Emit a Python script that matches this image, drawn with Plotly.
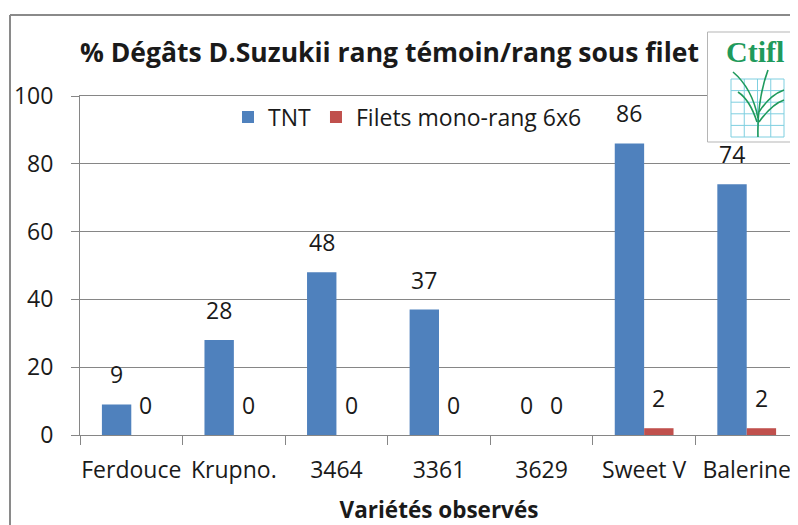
import plotly.graph_objects as go

# ---- data ----
categories = ["Ferdouce", "Krupno.", "3464", "3361", "3629", "Sweet V", "Balerine"]
tnt = [9, 28, 48, 37, 0, 86, 74]
filets = [0, 0, 0, 0, 0, 2, 2]
series_names = ["TNT", "Filets mono-rang 6x6"]
y_tick_values = [0, 20, 40, 60, 80, 100]
title_text = "% Dégâts D.Suzukii rang témoin/rang sous filet"
x_title = "Variétés observés"

# ---- layout geometry (page body has an 8px margin) ----
OFF = 8
W, H = 798 - OFF, 525 - OFF
L, R = 80 - OFF, 0
T = 96 - OFF
B = H - (435 - OFF)
PW = W - L - R
PH = H - T - B
FONT = "Open Sans"
BLUE = "#4F81BD"
RED = "#C0504D"
AXIS = "#868686"
TXT = "#1a1a1a"
BARGAP = 0.427
FS = 23


def px(x):
    # window pixel x -> paper fraction
    return (x - OFF - L) / PW


def py(y):
    # window pixel y -> paper fraction
    return 1 - (y - OFF - T) / PH


fig = go.Figure()
fig.add_trace(go.Bar(x=categories, y=tnt, name=series_names[0], marker_color=BLUE,
                     marker_line_width=0))
fig.add_trace(go.Bar(x=categories, y=filets, name=series_names[1], marker_color=RED,
                     marker_line_width=0))

# data labels
cat_w = PW / len(categories)
bar_w = cat_w * (1 - BARGAP) / 2
annotations = []
for vals, sign in ((tnt, -1), (filets, 1)):
    for i, v in enumerate(vals):
        annotations.append(dict(x=i, y=v, xref="x", yref="y", text=str(v), showarrow=False,
                                xshift=sign * bar_w / 2, yanchor="bottom", yshift=12,
                                font=dict(family=FONT, size=FS, color=TXT)))

# title
annotations.append(dict(x=px(78), y=py(52), xref="paper", yref="paper",
                        text="<b>" + title_text + "</b>", showarrow=False,
                        xanchor="left", yanchor="middle",
                        font=dict(family=FONT, size=26.5, color=TXT)))

shapes = []
# outer chart border (top and left)
shapes.append(dict(type="line", xref="paper", yref="paper", x0=px(10), x1=px(800), y0=py(15), y1=py(15),
                   line=dict(color="#8a8a8a", width=2), layer="above"))
shapes.append(dict(type="line", xref="paper", yref="paper", x0=px(10), x1=px(10), y0=py(15), y1=py(530),
                   line=dict(color="#8a8a8a", width=2), layer="above"))

# logo box
shapes.append(dict(type="rect", xref="paper", yref="paper", x0=px(707.5), x1=px(805), y0=py(32), y1=py(142),
                   fillcolor="white", line=dict(color="#b5b5b5", width=1), layer="above"))
GRID_C = "#7fcfe0"
gx0, gx1, gy0, gy1 = 731, 784, 79, 137
for i in range(5):
    xx = gx0 + i * (gx1 - gx0) / 4
    shapes.append(dict(type="line", xref="paper", yref="paper", x0=px(xx), x1=px(xx), y0=py(gy0), y1=py(gy1),
                       line=dict(color=GRID_C, width=1), layer="above"))
for j in range(6):
    yy = gy0 + j * (gy1 - gy0) / 5
    shapes.append(dict(type="line", xref="paper", yref="paper", x0=px(gx0), x1=px(gx1), y0=py(yy), y1=py(yy),
                       line=dict(color=GRID_C, width=1), layer="above"))


def ppath(points):
    s = ""
    for cmd, coords in points:
        s += cmd + " ".join(f"{px(a):.5f},{py(b):.5f}" for a, b in coords) + " "
    return s.strip()


GREEN = "#1f9a5c"
plant = [
    [("M", [(758, 137)]), ("Q", [(757, 100), (768, 70)])],
    [("M", [(758, 118)]), ("Q", [(752, 88), (733, 72)])],
    [("M", [(757, 122)]), ("Q", [(750, 100), (738, 92)])],
    [("M", [(759, 112)]), ("Q", [(770, 95), (784, 90)])],
    [("M", [(759, 122)]), ("Q", [(772, 104), (784, 100)])],
]
for p in plant:
    shapes.append(dict(type="path", xref="paper", yref="paper", path=ppath(p),
                       line=dict(color=GREEN, width=1.6), layer="above"))

annotations.append(dict(x=px(755), y=py(51), xref="paper", yref="paper", text="<b>Ctifl</b>",
                        showarrow=False, xanchor="center", yanchor="middle",
                        font=dict(family="Liberation Serif", size=30, color=GREEN)))

fig.update_layout(
    width=W, height=H,
    margin=dict(l=L, r=R, t=T, b=B, autoexpand=False),
    paper_bgcolor="white", plot_bgcolor="white",
    barmode="group", bargap=BARGAP, bargroupgap=0,
    font=dict(family=FONT, size=FS, color=TXT),
    legend=dict(orientation="h", x=px(228), y=py(117), xanchor="left", yanchor="middle",
                bgcolor="rgba(0,0,0,0)", font=dict(family=FONT, size=FS, color=TXT),
                traceorder="normal"),
    xaxis=dict(type="category", categoryorder="array", categoryarray=categories,
               range=[-0.5, len(categories) - 0.5],
               showline=True, linecolor=AXIS, linewidth=1, mirror=True,
               ticks="outside", ticklen=9, tickcolor=AXIS, tickson="boundaries", tickangle=0,
               showgrid=False, automargin=False, ticklabelstandoff=14,
               tickfont=dict(family=FONT, size=FS, color=TXT),
               title=dict(text="<b>" + x_title + "</b>", standoff=18,
                          font=dict(family=FONT, size=22.5, color=TXT))),
    yaxis=dict(range=[0, 100], tickvals=y_tick_values, showline=True, linecolor=AXIS, linewidth=1,
               ticks="outside", ticklen=8, tickcolor=AXIS, showgrid=True, gridcolor=AXIS,
               gridwidth=1, zeroline=False, automargin=False, ticklabelstandoff=13,
               tickfont=dict(family=FONT, size=FS, color=TXT)),
    annotations=annotations,
    shapes=shapes,
)

fig.write_html("out.html")
